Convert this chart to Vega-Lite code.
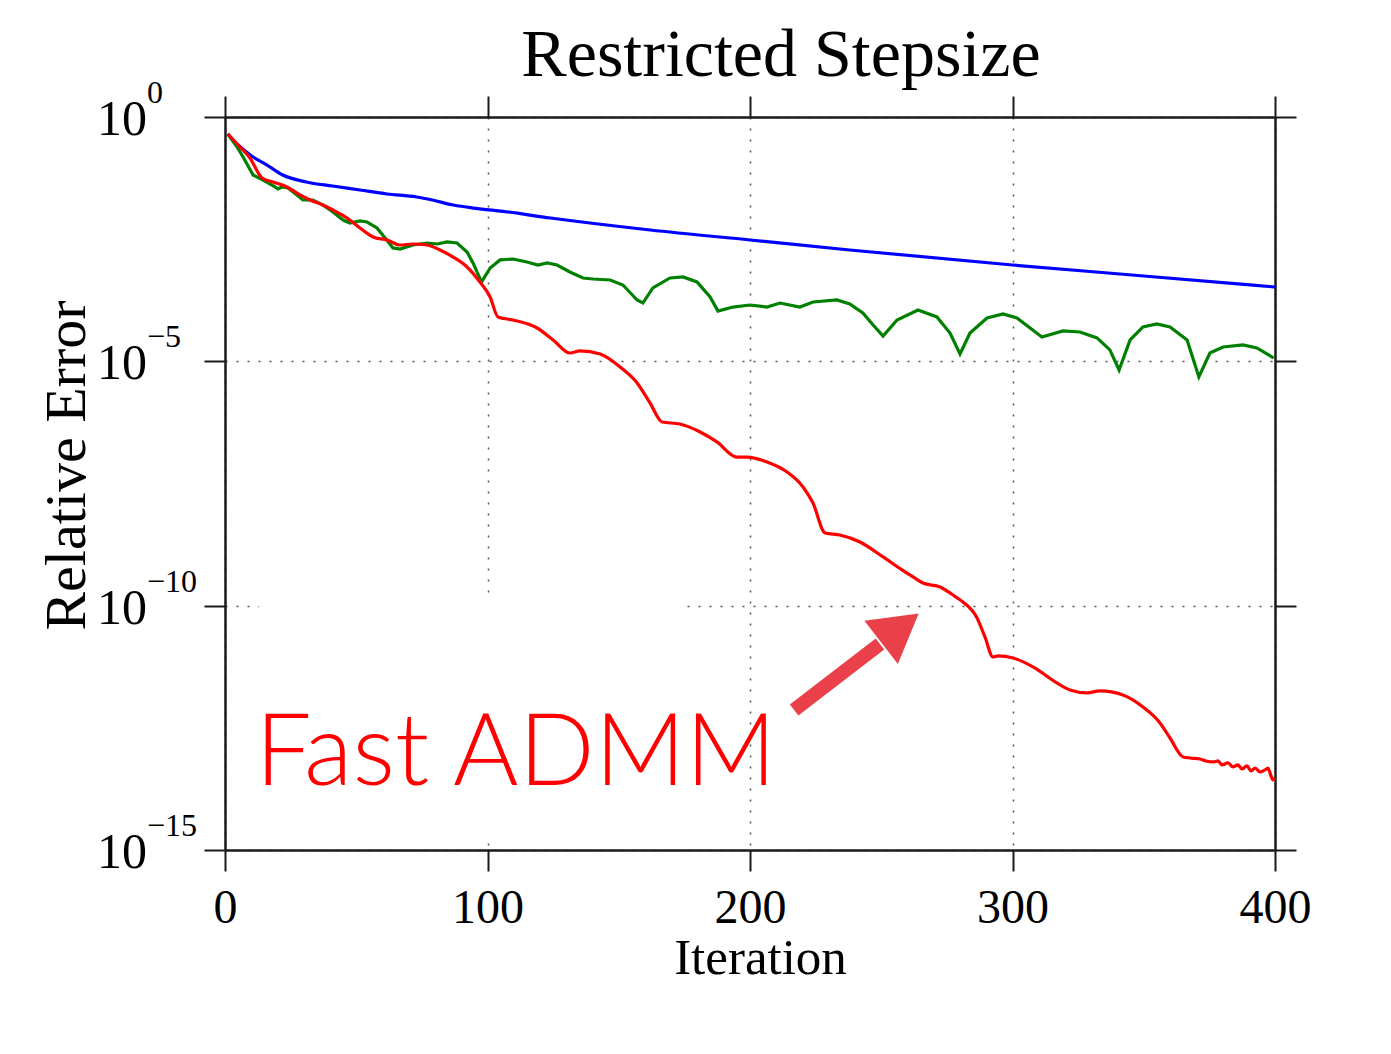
{
  "$schema": "https://vega.github.io/schema/vega-lite/v6.json",
  "width": 1050,
  "height": 733,
  "autosize": "none",
  "padding": {"left": 225, "top": 117, "right": 116, "bottom": 204},
  "background": "white",
  "title": {
    "text": "Restricted Stepsize",
    "font": "Liberation Serif",
    "fontSize": 68,
    "fontWeight": "normal",
    "color": "black",
    "anchor": "middle",
    "dx": 31,
    "baseline": "alphabetic",
    "offset": -67
  },
  "config": {
    "view": {"stroke": null},
    "axis": {
      "domainColor": "#1a1a1a",
      "domainWidth": 2.5,
      "tickColor": "#1a1a1a",
      "tickWidth": 2,
      "tickSize": 21,
      "gridColor": "#555555",
      "gridDash": [2, 9],
      "gridWidth": 1.5,
      "labelFont": "Liberation Serif",
      "labelColor": "black",
      "titleFont": "Liberation Serif",
      "titleFontWeight": "normal",
      "titleColor": "black"
    }
  },
  "datasets": {
    "box": [{"x1": 13, "x2": 176, "y1": 1.45e-10, "y2": 1.95e-15}],
    "blue": [
      {"i": 1, "v": 0.449}, {"i": 5, "v": 0.267}, {"i": 10.7, "v": 0.152}, {"i": 16, "v": 0.104},
      {"i": 22, "v": 0.065}, {"i": 31, "v": 0.0468}, {"i": 41, "v": 0.0387}, {"i": 51.4, "v": 0.0321},
      {"i": 61.7, "v": 0.0266}, {"i": 73, "v": 0.0231}, {"i": 79, "v": 0.02}, {"i": 87, "v": 0.0158},
      {"i": 94.5, "v": 0.0137}, {"i": 105, "v": 0.0119}, {"i": 124, "v": 0.00857}, {"i": 162, "v": 0.00487},
      {"i": 200, "v": 0.00304}, {"i": 238, "v": 0.0019}, {"i": 300, "v": 0.000937}, {"i": 350, "v": 0.000558},
      {"i": 400, "v": 0.000332}
    ],
    "green": [
      {"i": 1.1, "v": 0.449}, {"i": 4.6, "v": 0.243}, {"i": 6.9, "v": 0.152}, {"i": 10.7, "v": 0.065},
      {"i": 14.5, "v": 0.0514}, {"i": 17.9, "v": 0.0406}, {"i": 20.2, "v": 0.0337}, {"i": 21.7, "v": 0.037},
      {"i": 24, "v": 0.0352}, {"i": 27.4, "v": 0.0254}, {"i": 29.7, "v": 0.02}, {"i": 33.5, "v": 0.02},
      {"i": 37.3, "v": 0.0158}, {"i": 41.1, "v": 0.0114}, {"i": 45, "v": 0.0078}, {"i": 47.6, "v": 0.00678},
      {"i": 51.4, "v": 0.00745}, {"i": 54.1, "v": 0.0071}, {"i": 57.9, "v": 0.00536}, {"i": 61, "v": 0.00334},
      {"i": 64, "v": 0.00209}, {"i": 66.7, "v": 0.00199}, {"i": 71.6, "v": 0.0024}, {"i": 77, "v": 0.00264},
      {"i": 80.8, "v": 0.00252}, {"i": 84.6, "v": 0.00277}, {"i": 88.4, "v": 0.00264}, {"i": 92.2, "v": 0.00173},
      {"i": 94.5, "v": 0.00103}, {"i": 97.7, "v": 0.00042}, {"i": 101, "v": 0.000813}, {"i": 104.8, "v": 0.00119},
      {"i": 109.7, "v": 0.00124}, {"i": 115, "v": 0.00108}, {"i": 119.2, "v": 0.000937}, {"i": 122.7, "v": 0.00103},
      {"i": 126.5, "v": 0.000937}, {"i": 131.4, "v": 0.000673}, {"i": 136.4, "v": 0.000508}, {"i": 140.2, "v": 0.000484},
      {"i": 146.7, "v": 0.000462}, {"i": 151.6, "v": 0.000365}, {"i": 157, "v": 0.00018}, {"i": 159.2, "v": 0.000156},
      {"i": 163, "v": 0.000317}, {"i": 169.5, "v": 0.000508}, {"i": 174.5, "v": 0.000532}, {"i": 179.8, "v": 0.000421},
      {"i": 184.8, "v": 0.000207}, {"i": 187.8, "v": 0.000107}, {"i": 193.5, "v": 0.000129}, {"i": 200, "v": 0.000142},
      {"i": 206.5, "v": 0.000129}, {"i": 211.4, "v": 0.000156}, {"i": 219, "v": 0.000129}, {"i": 224, "v": 0.000164},
      {"i": 233.1, "v": 0.00018}, {"i": 238, "v": 0.000149}, {"i": 243, "v": 0.0000975}, {"i": 246.9, "v": 0.0000554},
      {"i": 250.7, "v": 0.000033}, {"i": 256, "v": 0.0000701}, {"i": 264, "v": 0.000112}, {"i": 271.2, "v": 0.0000809},
      {"i": 276.2, "v": 0.000038}, {"i": 280, "v": 0.0000141}, {"i": 283.8, "v": 0.000038}, {"i": 290.3, "v": 0.0000771},
      {"i": 296.4, "v": 0.0000931}, {"i": 301.7, "v": 0.0000771}, {"i": 306.7, "v": 0.0000481}, {"i": 311.2, "v": 0.0000315},
      {"i": 319.2, "v": 0.0000418}, {"i": 325.7, "v": 0.0000399}, {"i": 332.2, "v": 0.0000301}, {"i": 337.1, "v": 0.0000171},
      {"i": 340.6, "v": 0.00000665}, {"i": 344.8, "v": 0.0000274}, {"i": 349.7, "v": 0.0000505}, {"i": 355, "v": 0.0000581},
      {"i": 360, "v": 0.0000505}, {"i": 366.5, "v": 0.0000274}, {"i": 371, "v": 0.00000479}, {"i": 375.2, "v": 0.0000148},
      {"i": 380.2, "v": 0.0000197}, {"i": 387.8, "v": 0.0000216}, {"i": 393.1, "v": 0.0000188}, {"i": 399.5, "v": 0.0000117}
    ],
    "red": [
      {"i": 1.1, "v": 0.449}, {"i": 5, "v": 0.267}, {"i": 9.5, "v": 0.145}, {"i": 14.1, "v": 0.0565},
      {"i": 18.3, "v": 0.0468}, {"i": 23.6, "v": 0.037}, {"i": 28.6, "v": 0.0254}, {"i": 32.4, "v": 0.02},
      {"i": 37.3, "v": 0.0158}, {"i": 41.1, "v": 0.0125}, {"i": 46.5, "v": 0.00857}, {"i": 51.4, "v": 0.00536},
      {"i": 56.4, "v": 0.00351}, {"i": 61.7, "v": 0.00304}, {"i": 66.7, "v": 0.0024}, {"i": 71.6, "v": 0.00252},
      {"i": 77, "v": 0.0024}, {"i": 81.9, "v": 0.0019}, {"i": 86.9, "v": 0.00136}, {"i": 92.2, "v": 0.000853},
      {"i": 97.1, "v": 0.000421}, {"i": 101, "v": 0.000207}, {"i": 104, "v": 0.0000809}, {"i": 109.7, "v": 0.0000701},
      {"i": 118.9, "v": 0.0000481}, {"i": 125, "v": 0.0000274}, {"i": 131.4, "v": 0.0000148}, {"i": 135.2, "v": 0.0000163},
      {"i": 142.9, "v": 0.0000141}, {"i": 150.5, "v": 0.00000766}, {"i": 157, "v": 0.00000361}, {"i": 161.9, "v": 0.00000141},
      {"i": 166.5, "v": 5.74e-7}, {"i": 173.3, "v": 5.22e-7}, {"i": 181, "v": 3.58e-7}, {"i": 187.4, "v": 2.24e-7},
      {"i": 195, "v": 1.1e-7}, {"i": 198.9, "v": 1.1e-7}, {"i": 206.5, "v": 8.71e-8}, {"i": 214.1, "v": 5.44e-8},
      {"i": 220.2, "v": 2.69e-8}, {"i": 224, "v": 1.26e-8}, {"i": 228.6, "v": 3.08e-9}, {"i": 234.3, "v": 2.8e-9},
      {"i": 241.9, "v": 2.01e-9}, {"i": 250.7, "v": 9.93e-10}, {"i": 257.9, "v": 5.38e-10}, {"i": 262.1, "v": 3.87e-10},
      {"i": 265.9, "v": 2.91e-10}, {"i": 272.4, "v": 2.41e-10}, {"i": 278.9, "v": 1.44e-10}, {"i": 281.1, "v": 1.19e-10},
      {"i": 286.5, "v": 5.6e-11}, {"i": 289.5, "v": 2.29e-11}, {"i": 292.6, "v": 8.91e-12}, {"i": 294.5, "v": 9.35e-12},
      {"i": 300.2, "v": 8.51e-12}, {"i": 307.8, "v": 5.57e-12}, {"i": 316.9, "v": 2.62e-12}, {"i": 321.9, "v": 1.88e-12},
      {"i": 328.4, "v": 1.64e-12}, {"i": 333.3, "v": 1.8e-12}, {"i": 342.1, "v": 1.49e-12}, {"i": 349.7, "v": 8.46e-13},
      {"i": 356.2, "v": 3.98e-13}, {"i": 360, "v": 1.96e-13}, {"i": 365, "v": 8.02e-14}, {"i": 367.6, "v": 7.64e-14},
      {"i": 371.4, "v": 7.29e-14}, {"i": 373.7, "v": 6.64e-14}, {"i": 376.4, "v": 6.34e-14}, {"i": 378.3, "v": 6.64e-14},
      {"i": 379.8, "v": 5.5e-14}, {"i": 382.1, "v": 6.04e-14}, {"i": 384, "v": 5.0e-14}, {"i": 385.9, "v": 5.5e-14},
      {"i": 387.4, "v": 4.55e-14}, {"i": 389.3, "v": 5.25e-14}, {"i": 390.9, "v": 4.14e-14}, {"i": 392.4, "v": 4.77e-14},
      {"i": 394.3, "v": 3.95e-14}, {"i": 396.2, "v": 4.35e-14}, {"i": 397.3, "v": 4.77e-14}, {"i": 398.5, "v": 3.27e-14},
      {"i": 399.2, "v": 2.71e-14}, {"i": 400, "v": 2.98e-14}
    ],
    "arrow": [{"x1": 216.8, "y1": 7.35e-13, "x2": 249.5, "y2": 1.64e-11, "hx": 257.1, "hy": 3.5e-11}],
    "note": [{"x": 11.5, "y": 2.14e-14, "t": "Fast ADMM"}],
    "ticks": [
      {"v": 1, "e": "0"}, {"v": 1e-5, "e": "\u22125"}, {"v": 1e-10, "e": "\u221210"}, {"v": 1e-15, "e": "\u221215"}
    ]
  },
  "layer": [
    {
      "data": {"name": "box"},
      "mark": {"type": "rect", "color": "white"},
      "encoding": {
        "x": {"field": "x1", "type": "quantitative", "scale": {"domain": [0, 400], "nice": false, "zero": false},
          "axis": {"orient": "top", "values": [0, 100, 200, 300, 400], "labels": false, "title": null, "grid": false}},
        "x2": {"field": "x2"},
        "y": {"field": "y1", "type": "quantitative", "scale": {"type": "log", "domain": [1e-15, 1], "nice": false},
          "axis": {"orient": "right", "values": [1, 1e-5, 1e-10, 1e-15], "labels": false, "title": null, "grid": false}},
        "y2": {"field": "y2"}
      }
    },
    {
      "data": {"name": "blue"},
      "mark": {"type": "line", "color": "#0000ff", "strokeWidth": 3.2, "interpolate": "monotone"},
      "encoding": {
        "x": {"field": "i", "type": "quantitative", "scale": {"domain": [0, 400], "nice": false, "zero": false},
          "axis": {"orient": "bottom", "values": [0, 100, 200, 300, 400], "grid": true, "labelFontSize": 48,
            "labelBaseline": "alphabetic", "labelPadding": 51, "labelFlush": false, "labelOverlap": false,
            "title": "Iteration", "titleFontSize": 51, "titleX": 535, "titleY": 123, "titleBaseline": "alphabetic"}},
        "y": {"field": "v", "type": "quantitative", "scale": {"type": "log", "domain": [1e-15, 1], "nice": false},
          "axis": {"orient": "left", "values": [1, 1e-5, 1e-10, 1e-15], "grid": true, "labels": false,
            "title": "Relative Error", "titleFontSize": 58, "titleX": -141, "titleY": 348, "titleBaseline": "alphabetic", "titleAngle": 270}}
      }
    },
    {
      "data": {"name": "green"},
      "mark": {"type": "line", "color": "#008000", "strokeWidth": 3.2},
      "encoding": {
        "x": {"field": "i", "type": "quantitative", "axis": null},
        "y": {"field": "v", "type": "quantitative", "scale": {"type": "log", "domain": [1e-15, 1], "nice": false}, "axis": null}
      }
    },
    {
      "data": {"name": "red"},
      "mark": {"type": "line", "color": "#ff0000", "strokeWidth": 3.2, "interpolate": "monotone"},
      "encoding": {
        "x": {"field": "i", "type": "quantitative", "axis": null},
        "y": {"field": "v", "type": "quantitative", "scale": {"type": "log", "domain": [1e-15, 1], "nice": false}, "axis": null}
      }
    },
    {
      "data": {"name": "arrow"},
      "mark": {"type": "rule", "color": "#e9404a", "strokeWidth": 14, "strokeCap": "butt"},
      "encoding": {
        "x": {"field": "x1", "type": "quantitative", "axis": null},
        "x2": {"field": "x2"},
        "y": {"field": "y1", "type": "quantitative", "scale": {"type": "log", "domain": [1e-15, 1], "nice": false}, "axis": null},
        "y2": {"field": "y2"}
      }
    },
    {
      "data": {"name": "arrow"},
      "mark": {"type": "point", "shape": "triangle-right", "filled": true, "color": "#e9404a", "opacity": 1, "size": 3000, "angle": 322.3},
      "encoding": {
        "x": {"field": "hx", "type": "quantitative", "axis": null},
        "y": {"field": "hy", "type": "quantitative", "scale": {"type": "log", "domain": [1e-15, 1], "nice": false}, "axis": null}
      }
    },
    {
      "data": {"name": "note"},
      "mark": {"type": "text", "font": "Lato", "fontWeight": 300, "fontSize": 100, "color": "#ff0000", "align": "left", "baseline": "alphabetic"},
      "encoding": {
        "x": {"field": "x", "type": "quantitative", "axis": null},
        "y": {"field": "y", "type": "quantitative", "scale": {"type": "log", "domain": [1e-15, 1], "nice": false}, "axis": null},
        "text": {"field": "t"}
      }
    },
    {
      "data": {"name": "ticks"},
      "mark": {"type": "text", "text": "10", "font": "Liberation Serif", "fontSize": 50, "color": "black", "align": "left", "baseline": "alphabetic", "dx": -128, "dy": 18},
      "encoding": {
        "x": {"datum": 0, "type": "quantitative", "axis": null},
        "y": {"field": "v", "type": "quantitative", "scale": {"type": "log", "domain": [1e-15, 1], "nice": false}, "axis": null}
      }
    },
    {
      "data": {"name": "ticks"},
      "mark": {"type": "text", "font": "Liberation Serif", "fontSize": 32, "color": "black", "align": "left", "baseline": "alphabetic", "dx": -78, "dy": -14},
      "encoding": {
        "x": {"datum": 0, "type": "quantitative", "axis": null},
        "y": {"field": "v", "type": "quantitative", "scale": {"type": "log", "domain": [1e-15, 1], "nice": false}, "axis": null},
        "text": {"field": "e"}
      }
    }
  ],
  "resolve": {"axis": {"x": "independent", "y": "independent"}}
}
